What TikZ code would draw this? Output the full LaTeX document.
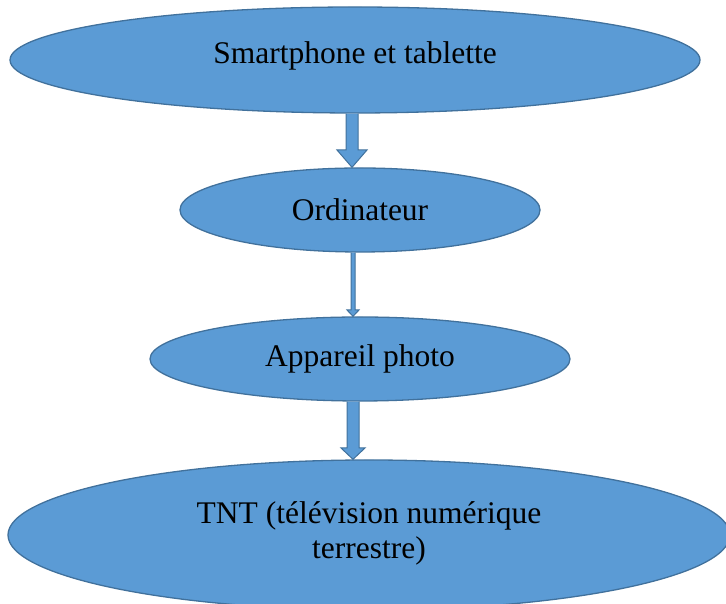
\documentclass[tikz,border=0pt]{standalone}
\usepackage{fontspec}
\setmainfont{Liberation Serif}
\usetikzlibrary{shapes.geometric,calc}
\definecolor{fillblue}{HTML}{5B9BD5}
\definecolor{edgeblue}{HTML}{41719C}
\tikzset{
  oval/.style={ellipse, draw=edgeblue, fill=fillblue, line width=1.3pt, inner sep=0pt, font=\fontsize{31.5}{35}\selectfont, align=center},
  blockarrow/.style={draw=edgeblue, fill=fillblue, line width=1pt, line join=miter}
}
\begin{document}
\begin{tikzpicture}[x=1pt,y=1pt]
\useasboundingbox (0,0) rectangle (726,604);
\begin{scope}
\clip (0,0) rectangle (726,604);
\node[oval, minimum width=690, minimum height=106] (smart) at (355,544) {\raisebox{14pt}{Smartphone et tablette}};
\node[oval, minimum width=360, minimum height=84] (ordi) at (360,394) {Ordinateur};
\node[oval, minimum width=420, minimum height=84] (photo) at (360,245) {Appareil photo};
\node[oval, minimum width=722, minimum height=150] (tnt) at (369,69) {TNT (télévision numérique\\terrestre)\\[-26pt]};
% arrow 1
\draw[blockarrow] (346,0 |- smart.south) -- (346,454) -- (337,454) -- (352,0 |- ordi.north) -- (367,454) -- (358,454) -- (358,0 |- smart.south);
% arrow 2
\draw[blockarrow] (351,0 |- ordi.south) -- (351,294) -- (347,294) -- (353,0 |- photo.north) -- (359,294) -- (355,294) -- (355,0 |- ordi.south);
% arrow 3
\draw[blockarrow] (347,0 |- photo.south) -- (347,156) -- (341,156) -- (353,0 |- tnt.north) -- (365,156) -- (359,156) -- (359,0 |- photo.south);
\end{scope}
\end{tikzpicture}
\end{document}
